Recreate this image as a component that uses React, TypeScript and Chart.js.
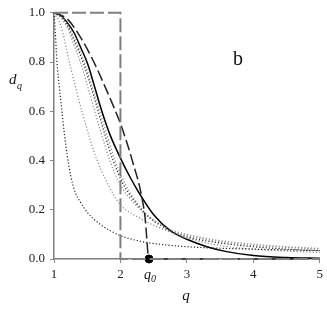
import React, { useEffect, useRef } from "react";
import { Chart, registerables } from "chart.js";

Chart.register(...registerables);

// Tick labels
const xTicks = [1, 2, 3, 4, 5];
const yTicks = [0, 0.2, 0.4, 0.6, 0.8, 1.0];
const q0Value = 2.43;

// Step function (long dashes, gray)
const stepQ = [1, 2, 2, 5];
const stepD = [1, 1, 0, 0];

// Dashed curve ending at q0
const dashQ = [1, 1.2, 1.4, 1.6, 1.8, 2.0, 2.1, 2.2, 2.3, 2.37, 2.43, 5];
const dashD = [1, 0.975, 0.9, 0.8, 0.68, 0.55, 0.47, 0.38, 0.28, 0.17, 0, 0];

// Solid curve
const solidQ = [1, 1.1, 1.2, 1.3, 1.4, 1.51, 1.6, 1.72, 1.85, 2.0, 2.15, 2.3, 2.5, 2.75, 3.0, 3.3, 3.6, 4.0, 4.5, 5];
const solidD = [1, 0.99, 0.96, 0.92, 0.86, 0.79, 0.71, 0.6, 0.5, 0.41, 0.33, 0.26, 0.18, 0.115, 0.08, 0.05, 0.03, 0.014, 0.006, 0.003];

// Dotted curves
const l1Q = [1, 1.02, 1.045, 1.08, 1.12, 1.16, 1.2, 1.25, 1.32, 1.4, 1.5, 1.7, 2.0, 2.3, 2.5, 3.0, 4.0, 5];
const l1D = [1, 0.92, 0.8, 0.7, 0.6, 0.5, 0.42, 0.34, 0.27, 0.23, 0.19, 0.14, 0.095, 0.072, 0.063, 0.05, 0.04, 0.034];

const l2Q = [1, 1.1, 1.24, 1.42, 1.65, 1.9, 2.0, 2.3, 2.75, 3.0, 3.5, 4.0, 4.5, 5];
const l2D = [1, 0.95, 0.79, 0.6, 0.4, 0.26, 0.22, 0.165, 0.11, 0.095, 0.07, 0.055, 0.047, 0.04];

const b1Q = [1, 1.1, 1.2, 1.3, 1.41, 1.55, 1.7, 1.84, 2.0, 2.13, 2.3, 2.5, 2.75, 3.0, 3.5, 4.0, 4.5, 5];
const b1D = [1, 0.98, 0.94, 0.87, 0.79, 0.66, 0.52, 0.4, 0.3, 0.25, 0.2, 0.155, 0.12, 0.1, 0.075, 0.06, 0.05, 0.043];

const b2Q = [1, 1.1, 1.2, 1.3, 1.45, 1.6, 1.75, 1.89, 2.05, 2.17, 2.35, 2.5, 2.75, 3.0, 3.5, 4.0, 4.5, 5];
const b2D = [1, 0.985, 0.95, 0.89, 0.79, 0.66, 0.52, 0.4, 0.3, 0.25, 0.19, 0.155, 0.115, 0.09, 0.065, 0.05, 0.04, 0.034];

const b3Q = [1, 1.1, 1.2, 1.3, 1.47, 1.62, 1.78, 1.92, 2.08, 2.22, 2.4, 2.6, 2.75, 3.0, 3.5, 4.0, 4.5, 5];
const b3D = [1, 0.99, 0.955, 0.9, 0.79, 0.66, 0.52, 0.4, 0.3, 0.24, 0.18, 0.14, 0.11, 0.085, 0.055, 0.04, 0.032, 0.026];

const zip = (qs: number[], ds: number[]) => qs.map((q, i) => ({ x: q, y: ds[i] }));

const SERIF = "'Liberation Serif', 'Times New Roman', serif";

const textPlugin = {
  id: "textPlugin",
  afterDraw(chart: any) {
    const ctx = chart.ctx;
    const xs = chart.scales.x;
    const ys = chart.scales.y;
    ctx.save();
    ctx.fillStyle = "#111";
    // y title d_q
    ctx.textAlign = "left";
    ctx.textBaseline = "alphabetic";
    ctx.font = `italic 15px ${SERIF}`;
    ctx.fillText("d", 9, 84);
    ctx.font = `italic 10px ${SERIF}`;
    ctx.fillText("q", 17, 89);
    // x title q
    ctx.textAlign = "center";
    ctx.font = `italic 15px ${SERIF}`;
    ctx.fillText("q", 186, 300);
    // q0 label
    const px = xs.getPixelForValue(q0Value);
    ctx.font = `italic 14px ${SERIF}`;
    ctx.textAlign = "left";
    ctx.fillText("q", px - 5, 279);
    ctx.font = `italic 10px ${SERIF}`;
    ctx.fillText("0", px + 2, 282);
    // panel letter
    ctx.font = `20px ${SERIF}`;
    ctx.textAlign = "center";
    ctx.fillText("b", 238, 65);
    ctx.restore();
  },
};

export default function App() {
  const ref = useRef<HTMLCanvasElement | null>(null);
  useEffect(() => {
    if (!ref.current) return;
    const dotted = (data: any, color: string) => ({
      data,
      borderColor: color,
      borderWidth: 1.2,
      borderDash: [1.2, 2],
      pointRadius: 0,
      cubicInterpolationMode: "monotone",
      fill: false,
      clip: false,
    });
    const chart = new Chart(ref.current, {
      type: "line",
      data: {
        datasets: [
          {
            data: zip(stepQ, stepD),
            borderColor: "#7f7f7f",
            borderWidth: 2,
            borderDash: [14, 4],
            pointRadius: 0,
            tension: 0,
            fill: false,
            clip: false,
          } as any,
          {
            data: zip(dashQ, dashD),
            borderColor: "#222",
            borderWidth: 1.5,
            borderDash: [11, 4],
            pointRadius: 0,
            cubicInterpolationMode: "monotone",
            fill: false,
            clip: false,
          },
          dotted(zip(l1Q, l1D), "#222"),
          dotted(zip(l2Q, l2D), "#8a8a8a"),
          dotted(zip(b1Q, b1D), "#8a8a8a"),
          dotted(zip(b2Q, b2D), "#222"),
          dotted(zip(b3Q, b3D), "#8a8a8a"),
          {
            data: zip(solidQ, solidD),
            borderColor: "#000",
            borderWidth: 1.5,
            pointRadius: 0,
            cubicInterpolationMode: "monotone",
            fill: false,
            clip: false,
          },
          {
            data: [{ x: q0Value, y: 0 }],
            borderColor: "#000",
            backgroundColor: "#000",
            pointRadius: 4,
            showLine: false,
            clip: false,
          },
        ] as any,
      },
      options: {
        animation: false,
        responsive: false,
        layout: { padding: { top: 8, right: 7, left: 0, bottom: 0 } },
        plugins: { legend: { display: false }, tooltip: { enabled: false } },
        scales: {
          x: {
            type: "linear",
            min: 1,
            max: 5,
            afterFit: (s: any) => {
              s.height = 54;
            },
            afterBuildTicks: (s: any) => {
              s.ticks = xTicks.map((v) => ({ value: v }));
            },
            ticks: {
              color: "#222",
              font: { family: SERIF, size: 13 },
              padding: 4,
              maxRotation: 0,
              callback: (v: any) => String(v),
            },
            grid: {
              drawOnChartArea: false,
              drawTicks: true,
              tickLength: 4,
              color: "#888",
            },
            border: { color: "#7f7f7f", width: 1.5 },
          },
          y: {
            type: "linear",
            min: 0,
            max: 1,
            afterFit: (s: any) => {
              s.width = 54;
            },
            afterBuildTicks: (s: any) => {
              s.ticks = yTicks.map((v) => ({ value: v }));
            },
            ticks: {
              color: "#222",
              font: { family: SERIF, size: 13 },
              padding: 5,
              callback: (v: any) => Number(v).toFixed(1),
            },
            grid: {
              drawOnChartArea: false,
              drawTicks: true,
              tickLength: 4,
              color: "#888",
            },
            border: { color: "#7f7f7f", width: 1.5 },
          },
        },
      } as any,
      plugins: [textPlugin],
    });
    return () => chart.destroy();
  }, []);
  return (
    <div style={{ position: "fixed", left: 0, top: 0, width: 327, height: 313, background: "#fff" }}>
      <canvas ref={ref} width={327} height={313} style={{ display: "block" }} />
    </div>
  );
}
